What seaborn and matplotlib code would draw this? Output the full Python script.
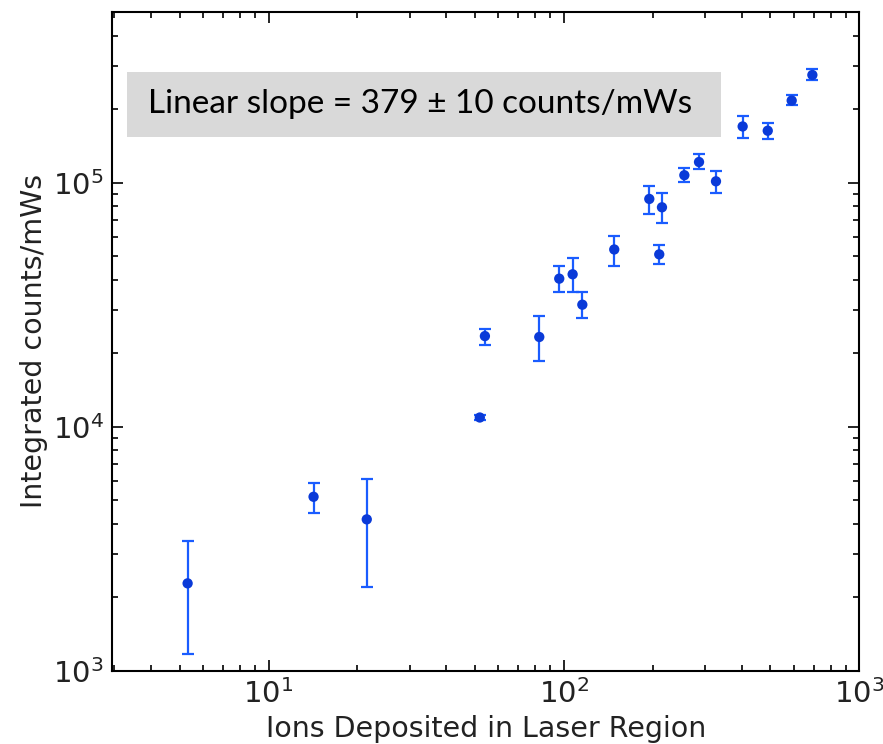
import numpy as np
import pandas as pd
import matplotlib
matplotlib.use("Agg")
import matplotlib.pyplot as plt
from matplotlib.patches import Rectangle
import seaborn as sns

# Data
ions = [5.32, 14.2, 21.5, 51.9, 54.0, 82.5, 96.4, 107.0, 115.4, 148.0,
        194.5, 214.7, 210.2, 255.6, 286.6, 327.1, 402.7, 489.7, 590.2, 693.4]
counts = [2280, 5160, 4170, 10900, 23500, 23300, 40400, 42100, 31600, 53200,
          85700, 79200, 50800, 107200, 121400, 101200, 169800, 163100, 216800, 276000]
err_hi = [3400, 5890, 6130, 11200, 25100, 28300, 45400, 49200, 35500, 60500,
          97200, 91000, 55600, 114400, 131400, 112000, 186600, 175300, 229000, 292000]
err_lo = [1170, 4430, 2200, 10600, 21700, 18500, 35500, 35500, 27800, 45400,
          74100, 68400, 46300, 100400, 114000, 91000, 152000, 151300, 207000, 263500]

annotation = "Linear slope = 379 \u00b1 10 counts/mWs"
xlabel = "Ions Deposited in Laser Region"
ylabel = "Integrated counts/mWs"

df = pd.DataFrame({"ions": ions, "counts": counts, "hi": err_hi, "lo": err_lo})

sns.set_style("ticks")
plt.rcParams["font.family"] = ["DejaVu Sans"]

fig = plt.figure(figsize=(8.83, 7.44), dpi=100)
ax = fig.add_axes([0.1268, 0.0985, 0.8464, 0.8854])

yerr = np.vstack([df["counts"] - df["lo"], df["hi"] - df["counts"]])
ax.errorbar(df["ions"], df["counts"], yerr=yerr, fmt="none",
            ecolor="#1a5cff", elinewidth=1.6, capsize=4.5, capthick=1.6, zorder=2)
sns.scatterplot(data=df, x="ions", y="counts", ax=ax, color="#0a3ad8",
                s=55, edgecolor="none", zorder=3, legend=False)

ax.set_xscale("log")
ax.set_yscale("log")
ax.set_xlim(2.95, 1000)
ax.set_ylim(1000, 5e5)

ax.tick_params(which="both", direction="in", top=True, right=True,
               colors="black", labelcolor="#222222")
ax.tick_params(which="major", length=8, width=1.2, labelsize=21, pad=6)
ax.tick_params(which="minor", length=4.5, width=1.2)
for s in ax.spines.values():
    s.set_linewidth(1.5)
    s.set_color("black")

ax.set_xlabel(xlabel, fontsize=20.5, color="#222222", labelpad=4)
ax.set_ylabel(ylabel, fontsize=20.5, color="#222222", labelpad=3)

# Gray annotation box (figure coordinates)
W, H = 883, 744
x0, x1, y0, y1 = 127, 721, 72, 137
fig.patches.append(Rectangle((x0 / W, 1 - y1 / H), (x1 - x0) / W, (y1 - y0) / H,
                             transform=fig.transFigure, facecolor="#d9d9d9",
                             edgecolor="none", zorder=5))
fig.text(148 / W, 1 - 104 / H, annotation, fontsize=24, family=["Lato", "DejaVu Sans"],
         color="black", va="center", ha="left", zorder=6)

fig.savefig("out.png", dpi=100)
